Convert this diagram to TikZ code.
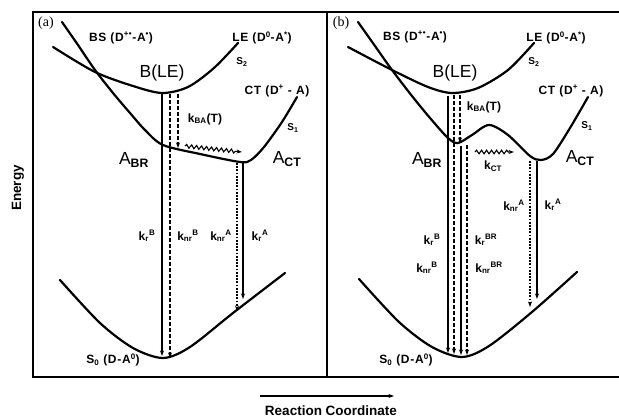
\documentclass[tikz,border=0pt]{standalone}
\usepackage{fontspec}
\setmainfont{Liberation Sans}
\newfontfamily\seriffont{Liberation Serif}
\newfontfamily\spacedfont[LetterSpace=6]{Liberation Sans}
\usetikzlibrary{arrows.meta,decorations.pathmorphing}
\begin{document}
\begin{tikzpicture}[x=1pt,y=-1pt,
  curve/.style={line width=2.2pt, line join=round, line cap=round},
  frame/.style={line width=1.1pt},
  trans/.style={line width=1.4pt,-{Stealth[length=5.5pt,width=4pt]}},
  dashtrans/.style={trans, dash pattern=on 3.8pt off 2.2pt},
  dottrans/.style={trans, dash pattern=on 1.8pt off 1.4pt},
  wavy/.style={line width=1.1pt, decorate, decoration={snake,amplitude=1.8pt,segment length=5pt,post length=5pt}, -{Stealth[length=5.5pt,width=4pt]}},
  state/.style={font=\spacedfont\bfseries\fontsize{12}{14}\selectfont, inner sep=0pt},
  slab/.style={font=\bfseries\fontsize{10}{11}\selectfont, inner sep=0pt},
  rate/.style={font=\bfseries\fontsize{12}{13}\selectfont, inner sep=0pt},
  big/.style={font=\fontsize{17.5}{19}\selectfont, inner sep=0pt},
  panel/.style={font=\seriffont\fontsize{14}{15}\selectfont, inner sep=0pt},
  axis/.style={font=\bfseries\fontsize{13.5}{15}\selectfont, inner sep=0pt}
]
\useasboundingbox (0,0) rectangle (619,419);
% frames
\draw[frame] (33,12) rectangle (625,377);
\draw[frame] (327,12) -- (327,377);

% ===== panel (a) =====
\node[panel] (pa) at (46,23) {(a)};
\draw[curve] plot[smooth] coordinates {(53,47) (95,72) (133,86) (162,93) (188,87) (214,68) (238,43)};
\draw[curve] plot[smooth] coordinates {(62,22) (78,45) (95,70) (113,93) (130,113) (145,130) (163,145) (200,154) (240,162) (251,160) (264,147) (282,122) (297,97)};
\draw[curve] plot[smooth] coordinates {(60,280) (100,323) (133,348) (163,358) (190,347) (233,313) (285,273)};

\node[state] (aBS) at (121,38) {BS (D\textsuperscript{+•}-A\textsuperscript{•})};
\node[state] (aLE) at (262,38) {LE (D\textsuperscript{0}-A\textsuperscript{*})};
\node[slab] (aS2) at (242,62) {S\textsubscript{2}};
\node[big] (aBLE) at (162,73) {B(LE)};
\node[state] (aCT) at (277,91) {CT (D\textsuperscript{+} - A)};
\node[slab] (aS1) at (293,128) {S\textsubscript{1}};
\node[big] (aABR) at (134,160) {A\textsubscript{\bfseries BR}};
\node[big] (aACT) at (287,159) {A\textsubscript{\bfseries CT}};
\node[rate] (akBA) at (205,119) {k\textsubscript{BA}(T)};
\node[rate] (akrB) at (147,236) {k\textsubscript{r}\textsuperscript{B}};
\node[rate] (aknrB) at (188,236) {k\textsubscript{nr}\textsuperscript{B}};
\node[rate] (aknrA) at (221,236) {k\textsubscript{nr}\textsuperscript{A}};
\node[rate] (akrA) at (260,236) {k\textsubscript{r}\textsuperscript{A}};
\node[state] (aS0) at (113,360) {S\textsubscript{0} (D-A\textsuperscript{0})};

\coordinate (a1s) at (162,93);  \coordinate (a1e) at (162,356);
\coordinate (a2s) at (170,94);  \coordinate (a2e) at (170,358);
\coordinate (a3s) at (178,94);  \coordinate (a3e) at (178,148);
\coordinate (aws) at (185,146); \coordinate (awe) at (242,152);
\coordinate (a4s) at (237,163); \coordinate (a4e) at (237,311);
\coordinate (a5s) at (243,163); \coordinate (a5e) at (243,299);
\draw[trans] (a1s) -- (a1e);
\draw[dashtrans] (a2s) -- (a2e);
\draw[dashtrans] (a3s) -- (a3e);
\draw[wavy] (aws) -- (awe);
\draw[dottrans] (a4s) -- (a4e);
\draw[trans] (a5s) -- (a5e);

% ===== panel (b) =====
\node[panel] (pb) at (341,23) {(b)};
\draw[curve] plot[smooth] coordinates {(348,47) (392,70) (428,87) (452,93) (478,88) (508,70) (534,43)};
\draw[curve] plot[smooth] coordinates {(358,22) (375,46) (392,70) (412,96) (430,118) (448,138) (458,143) (472,135) (489,125) (508,135) (530,156) (541,160) (553,154) (570,128) (588,97)};
\draw[curve] plot[smooth] coordinates {(359,279) (399,322) (432,347) (462,357) (489,346) (532,312) (577,272)};

\node[state] (bBS) at (415,37) {BS (D\textsuperscript{+•}-A\textsuperscript{•})};
\node[state] (bLE) at (556,38) {LE (D\textsuperscript{0}-A\textsuperscript{*})};
\node[slab] (bS2) at (534,62) {S\textsubscript{2}};
\node[big] (bBLE) at (455,73) {B(LE)};
\node[state] (bCT) at (571,91) {CT (D\textsuperscript{+} - A)};
\node[slab] (bS1) at (587,126) {S\textsubscript{1}};
\node[big] (bABR) at (427,160) {A\textsubscript{\bfseries BR}};
\node[big] (bACT) at (580,158) {A\textsubscript{\bfseries CT}};
\node[rate] (bkBA) at (484,107) {k\textsubscript{BA}(T)};
\node[rate] (bkCT) at (493,166) {k\textsubscript{CT}};
\node[rate] (bknrA) at (514,206) {k\textsubscript{nr}\textsuperscript{A}};
\node[rate] (bkrA) at (553,205) {k\textsubscript{r}\textsuperscript{A}};
\node[rate] (bkrB) at (432,240) {k\textsubscript{r}\textsuperscript{B}};
\node[rate] (bkrBR) at (486,240) {k\textsubscript{r}\textsuperscript{BR}};
\node[rate] (bknrB) at (427,268) {k\textsubscript{nr}\textsuperscript{B}};
\node[rate] (bknrBR) at (489,268) {k\textsubscript{nr}\textsuperscript{BR}};
\node[state] (bS0) at (406,360) {S\textsubscript{0} (D-A\textsuperscript{0})};

\coordinate (b1s) at (448,96);  \coordinate (b1e) at (448,353);
\coordinate (b2s) at (454,95);  \coordinate (b2e) at (454,354);
\coordinate (b3s) at (460,95);  \coordinate (b3e) at (460,143);
\coordinate (b4s) at (461,146); \coordinate (b4e) at (461,355);
\coordinate (b5s) at (467,145); \coordinate (b5e) at (467,355);
\coordinate (bws) at (475,152); \coordinate (bwe) at (514,152);
\coordinate (b6s) at (530,161); \coordinate (b6e) at (530,307);
\coordinate (b7s) at (537,161); \coordinate (b7e) at (537,299);
\draw[trans] (b1s) -- (b1e);
\draw[dashtrans] (b2s) -- (b2e);
\draw[dashtrans] (b3s) -- (b3e);
\draw[trans] (b4s) -- (b4e);
\draw[dashtrans] (b5s) -- (b5e);
\draw[wavy] (bws) -- (bwe);
\draw[dottrans] (b6s) -- (b6e);
\draw[trans] (b7s) -- (b7e);

% axes labels
\node[axis, rotate=90] (energy) at (18,188) {Energy};
\coordinate (rcs) at (260,396); \coordinate (rce) at (394,396);
\draw[line width=1.2pt,-{Stealth[length=5.5pt,width=4pt]}] (rcs) -- (rce);
\node[axis] (rc) at (331,411) {Reaction Coordinate};
\end{tikzpicture}
\end{document}
